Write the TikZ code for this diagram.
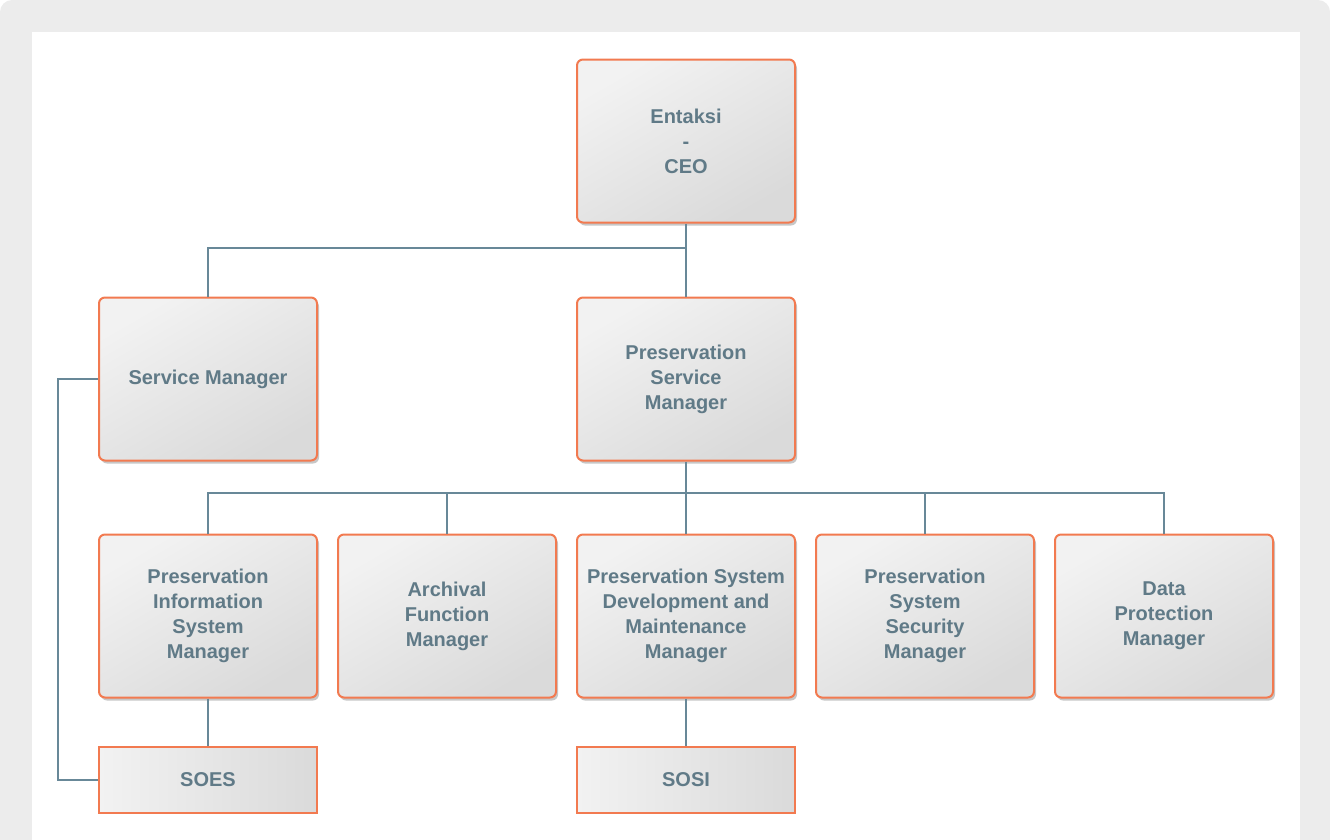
\documentclass[tikz,border=0pt]{standalone}
\usepackage{fontspec}
\setmainfont{Liberation Sans}
\usetikzlibrary{shadows}
\definecolor{frameGray}{RGB}{236,236,236}
\definecolor{boxLight}{RGB}{242,242,242}
\definecolor{boxDark}{RGB}{218,218,218}
\definecolor{edgeOrange}{RGB}{242,122,80}
\definecolor{txtSlate}{RGB}{96,122,135}
\definecolor{linkSlate}{RGB}{104,136,152}

\tikzset{
  rolebox/.style={draw=edgeOrange, line width=2pt, rounded corners=6pt,
    left color=boxLight, right color=boxDark, shading angle=30,
    minimum width=218pt, minimum height=163pt, align=center,
    text=txtSlate, font=\bfseries\fontsize{20}{25}\selectfont,
    drop shadow={shadow xshift=2pt, shadow yshift=-3pt, opacity=0.22, fill=black}},
  teambox/.style={draw=edgeOrange, line width=2pt,
    left color=boxLight, right color=boxDark,
    minimum width=218pt, minimum height=66pt, align=center,
    text=txtSlate, font=\bfseries\fontsize{20}{25}\selectfont},
  link/.style={draw=linkSlate, line width=1.6pt}
}

\begin{document}
\begin{tikzpicture}[x=1pt, y=-1pt]
\useasboundingbox (0,0) rectangle (1330,839);
\clip (0,0) rectangle (1330,839);
% frame
\fill[frameGray, rounded corners=12pt] (0,0) rectangle (1330,870);
\fill[white] (32,32) rectangle (1300,850);

% top
\node[rolebox] (ceo) at (686,141) {Entaksi\\-\\CEO};
\node[rolebox] (sm) at (208,379) {Service Manager};
\node[rolebox] (psm) at (686,379) {Preservation\\Service\\Manager};

% third row
\node[rolebox] (pism) at (208,616) {Preservation\\Information\\System\\Manager};
\node[rolebox] (afm) at (447,616) {Archival\\Function\\Manager};
\node[rolebox] (psdm) at (686,616) {Preservation System\\Development and\\Maintenance\\Manager};
\node[rolebox] (pssm) at (925,616) {Preservation\\System\\Security\\Manager};
\node[rolebox] (dpm) at (1164,616) {Data\\Protection\\Manager};

% teams
\node[teambox] (soes) at (208,780) {SOES};
\node[teambox] (sosi) at (686,780) {SOSI};

% connectors
\coordinate (bus1) at (686,248);
\coordinate (bus2) at (686,493);
\draw[link] (ceo.south) -- (psm.north);
\draw[link] (sm.north) |- (bus1);
\draw[link] (psm.south) -- (psdm.north);
\foreach \n in {pism,afm,pssm,dpm}
  \draw[link] (\n.north) |- (bus2);
\draw[link] (pism.south) -- (soes.north);
\draw[link] (psdm.south) -- (sosi.north);
\draw[link] (sm.west) -- ++(-40,0) |- (soes.west);
\end{tikzpicture}
\end{document}
